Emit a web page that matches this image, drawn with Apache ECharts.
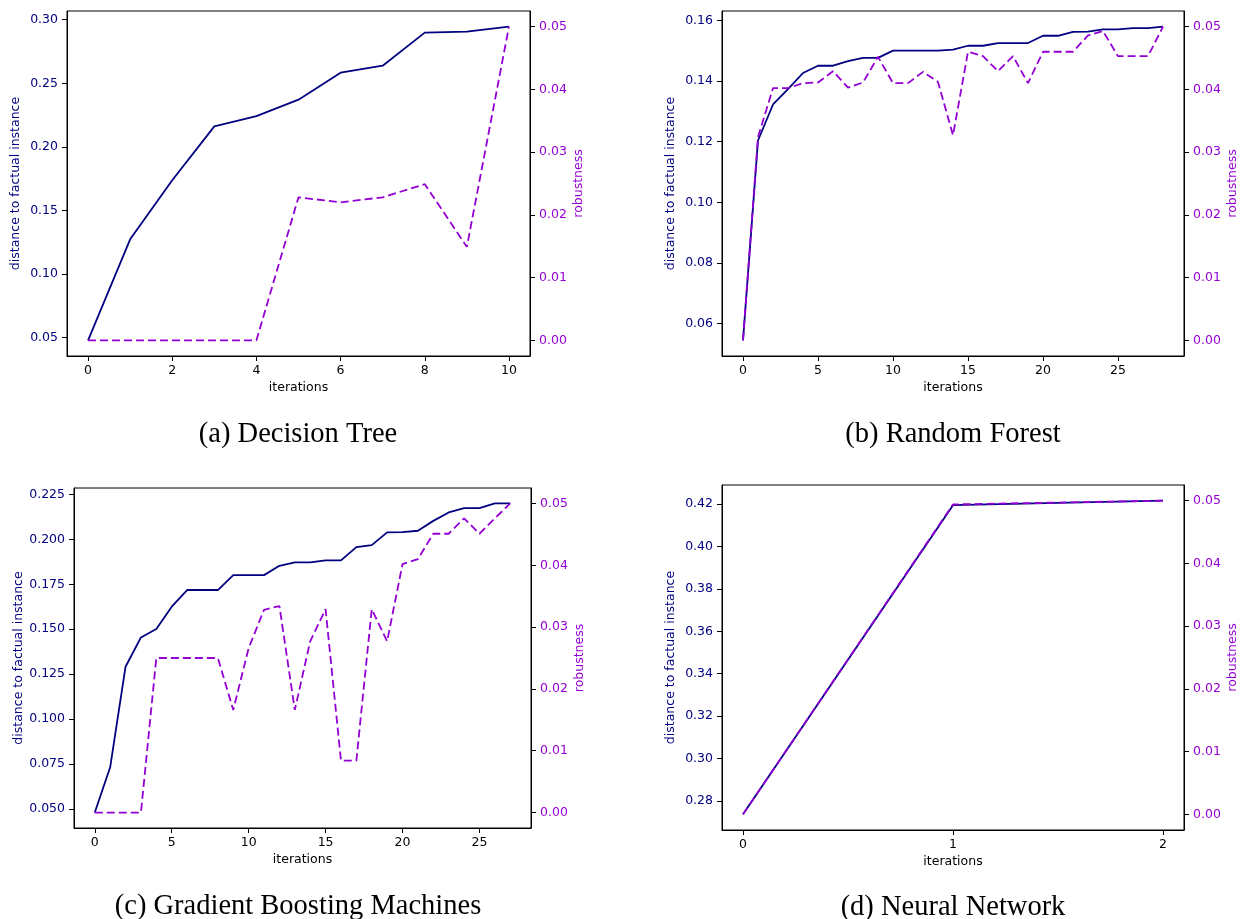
<!DOCTYPE html>
<html>
<head>
<meta charset="utf-8">
<script src="https://cdn.jsdelivr.net/npm/echarts@6/dist/echarts.min.js"></script>
<style>
html,body{margin:0;padding:0;background:#fff;}
#chart{width:1240px;height:919px;}
</style>
</head>
<body>
<div id="chart"></div>
<script>
// ---- data ----
const dtDistance = [0.0479, 0.1273, 0.1737, 0.2161, 0.2242, 0.2371, 0.2583, 0.2638, 0.2898, 0.2906, 0.2945];
const dtRobustness = [0, 0, 0, 0, 0, 0.0228, 0.0220, 0.0228, 0.0249, 0.0149, 0.05];

const rfDistance = [0.0544, 0.1204, 0.1323, 0.1374, 0.1427, 0.1451, 0.1451, 0.1466, 0.1477, 0.1477,
  0.1501, 0.1501, 0.1501, 0.1501, 0.1504, 0.1517, 0.1517, 0.1526, 0.1526, 0.1526,
  0.1550, 0.1550, 0.1563, 0.1564, 0.1571, 0.1571, 0.1575, 0.1575, 0.1580];
const rfRobustness = [0, 0.0324, 0.0402, 0.0402, 0.0410, 0.0411, 0.0429, 0.0403, 0.0411, 0.0452,
  0.0410, 0.0410, 0.0428, 0.0412, 0.0327, 0.0460, 0.0453, 0.0429, 0.0453, 0.0410,
  0.0460, 0.0460, 0.0460, 0.0486, 0.0493, 0.0453, 0.0453, 0.0453, 0.05];

const gbDistance = [0.0479, 0.0731, 0.1291, 0.1454, 0.1501, 0.1625, 0.1718, 0.1718, 0.1718, 0.1801,
  0.1801, 0.1801, 0.1853, 0.1872, 0.1872, 0.1883, 0.1883, 0.1957, 0.1968, 0.2039,
  0.2040, 0.2048, 0.2103, 0.2150, 0.2174, 0.2174, 0.2200, 0.2200];
const gbRobustness = [0, 0, 0, 0, 0.0250, 0.0250, 0.0250, 0.0250, 0.0250, 0.0166,
  0.0266, 0.0328, 0.0334, 0.0166, 0.0277, 0.0329, 0.0084, 0.0084, 0.0329, 0.0277,
  0.0402, 0.0410, 0.0451, 0.0451, 0.0476, 0.0451, 0.0476, 0.05];

const nnDistance = [0.2737, 0.4195, 0.4216];
const nnRobustness = [0, 0.0494, 0.05];

// tick labels
const dtXTicks = [0, 2, 4, 6, 8, 10];
const rfXTicks = [0, 5, 10, 15, 20, 25];
const gbXTicks = [0, 5, 10, 15, 20, 25];
const nnXTicks = [0, 1, 2];
const dtDistTicks = [0.05, 0.10, 0.15, 0.20, 0.25, 0.30];
const rfDistTicks = [0.06, 0.08, 0.10, 0.12, 0.14, 0.16];
const gbDistTicks = [0.050, 0.075, 0.100, 0.125, 0.150, 0.175, 0.200, 0.225];
const nnDistTicks = [0.28, 0.30, 0.32, 0.34, 0.36, 0.38, 0.40, 0.42];
const robTicks = [0.00, 0.01, 0.02, 0.03, 0.04, 0.05];

const captions = ['(a) Decision Tree', '(b) Random Forest', '(c) Gradient Boosting Machines', '(d) Neural Network'];

// ---- styling ----
const NAVY = '#000080';
const VIOLET = '#9400D3';
const FONT = 'DejaVu Sans';
const FS = 12.5;

const panels = [
  {dist: dtDistance, rob: dtRobustness, xt: dtXTicks, dt: dtDistTicks, dec: 2, grid: {left: 67, top: 11, width: 463, height: 345}, cap: [298, 435]},
  {dist: rfDistance, rob: rfRobustness, xt: rfXTicks, dt: rfDistTicks, dec: 2, grid: {left: 722, top: 11, width: 462, height: 345}, cap: [953, 435]},
  {dist: gbDistance, rob: gbRobustness, xt: gbXTicks, dt: gbDistTicks, dec: 3, grid: {left: 74, top: 488, width: 457, height: 340}, cap: [298, 907]},
  {dist: nnDistance, rob: nnRobustness, xt: nnXTicks, dt: nnDistTicks, dec: 2, grid: {left: 722, top: 485, width: 462, height: 345}, cap: [953, 908]}
];

function margins(arr) {
  const mn = Math.min(...arr), mx = Math.max(...arr);
  const m = (mx - mn) * 0.05;
  return [mn - m, mx + m];
}

const axisLineStyle = {show: true, onZero: false, lineStyle: {color: '#000', width: 1}};
const tickStyle = (vals) => ({show: true, inside: false, length: 5, lineStyle: {color: '#000', width: 1}, customValues: vals});
const grids = [], xAxes = [], yAxes = [], series = [], graphics = [];
panels.forEach((p, k) => {
  grids.push(Object.assign({show: true, borderColor: '#000', borderWidth: 1, backgroundColor: 'transparent'}, p.grid));
  const n = p.dist.length;
  const xm = (n - 1) * 0.05;
  xAxes.push({
    type: 'value', gridIndex: k, min: -xm, max: (n - 1) + xm, position: 'bottom',
    name: 'iterations', nameLocation: 'middle', nameGap: 25,
    nameTextStyle: {color: '#000', fontFamily: FONT, fontSize: FS},
    axisLine: axisLineStyle, splitLine: {show: false},
    axisTick: tickStyle(p.xt),
    axisLabel: {color: '#000', fontFamily: FONT, fontSize: FS, margin: 8, customValues: p.xt, formatter: v => String(v)}
  });
  const dr = margins(p.dist);
  yAxes.push({
    type: 'value', gridIndex: k, position: 'left', min: dr[0], max: dr[1],
    name: 'distance to factual instance', nameLocation: 'middle', nameRotate: 90, nameGap: 45,
    nameTextStyle: {color: NAVY, fontFamily: FONT, fontSize: FS},
    axisLine: axisLineStyle, splitLine: {show: false},
    axisTick: tickStyle(p.dt),
    axisLabel: {color: NAVY, fontFamily: FONT, fontSize: FS, margin: 9, customValues: p.dt, formatter: v => v.toFixed(p.dec)}
  });
  const rr = margins(p.rob);
  yAxes.push({
    type: 'value', gridIndex: k, position: 'right', min: rr[0], max: rr[1],
    name: 'robustness', nameLocation: 'middle', nameRotate: 90, nameGap: 42,
    nameTextStyle: {color: VIOLET, fontFamily: FONT, fontSize: FS},
    axisLine: axisLineStyle, splitLine: {show: false},
    axisTick: tickStyle(robTicks),
    axisLabel: {color: VIOLET, fontFamily: FONT, fontSize: FS, margin: 9, customValues: robTicks, formatter: v => v.toFixed(2)}
  });
  series.push({
    type: 'line', xAxisIndex: k, yAxisIndex: 2 * k, showSymbol: false, symbol: 'none',
    data: p.dist.map((v, i) => [i, v]),
    lineStyle: {color: NAVY, width: 1.8}, itemStyle: {color: NAVY}, animation: false, z: 2
  });
  series.push({
    type: 'line', xAxisIndex: k, yAxisIndex: 2 * k + 1, showSymbol: false, symbol: 'none',
    data: p.rob.map((v, i) => [i, v]),
    lineStyle: {color: VIOLET, width: 1.8, type: [8, 4]}, itemStyle: {color: VIOLET}, animation: false, z: 3
  });
  graphics.push({
    type: 'text', x: p.cap[0], y: p.cap[1],
    style: {text: captions[k], fill: '#000', font: '28.5px "Liberation Serif"', textAlign: 'center', textVerticalAlign: 'middle'}
  });
});

const chart = echarts.init(document.getElementById('chart'), null, {renderer: 'canvas'});
chart.setOption({
  backgroundColor: '#fff',
  animation: false,
  grid: grids,
  xAxis: xAxes,
  yAxis: yAxes,
  series: series,
  graphic: graphics
});
</script>
</body>
</html>
